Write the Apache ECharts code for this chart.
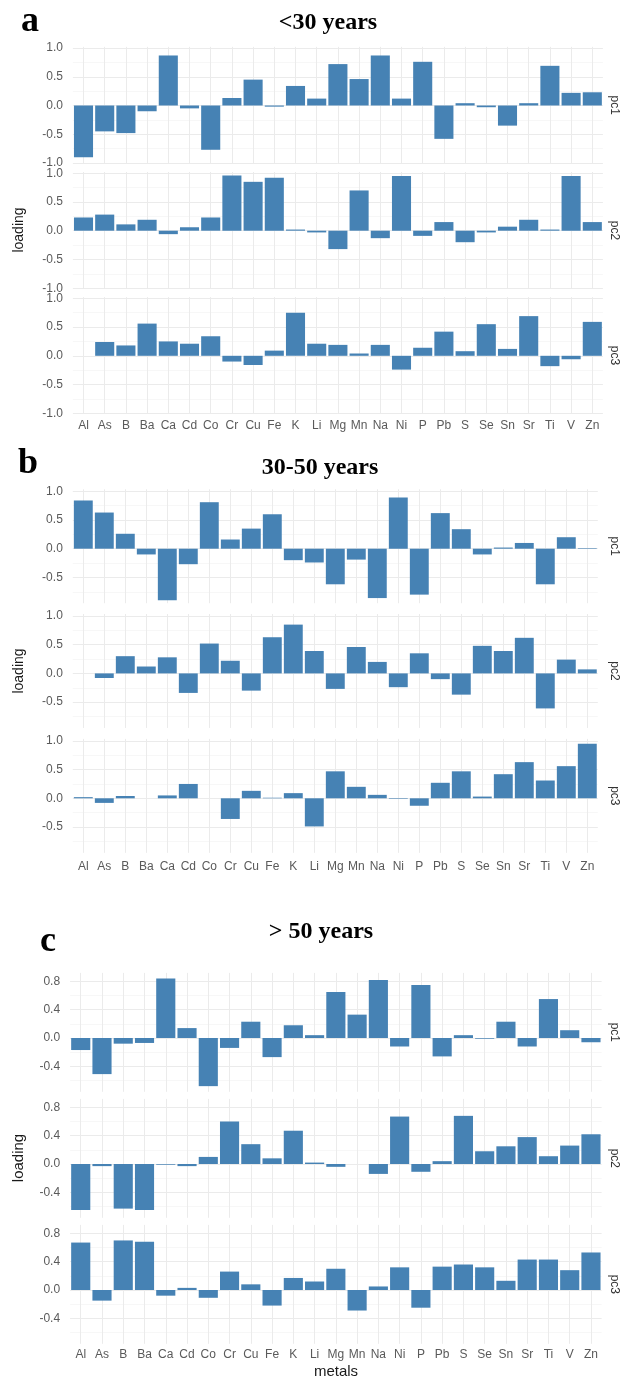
<!DOCTYPE html>
<html>
<head>
<meta charset="utf-8">
<script src="https://cdn.jsdelivr.net/npm/echarts@6/dist/echarts.min.js"></script>
<style>
html,body{margin:0;padding:0;background:#fff;}
#chart{width:621px;height:1380px;}
</style>
</head>
<body>
<div id="chart"></div>
<script>
// ---------- data ----------
const metals = ['Al','As','B','Ba','Ca','Cd','Co','Cr','Cu','Fe','K','Li','Mg','Mn','Na','Ni','P','Pb','S','Se','Sn','Sr','Ti','V','Zn'];
const components = ['pc1','pc2','pc3'];

const a_pc1 = [-0.90,-0.45,-0.48,-0.10,0.87,-0.05,-0.77,0.13,0.45,-0.02,0.34,0.12,0.72,0.46,0.87,0.12,0.76,-0.58,0.04,-0.03,-0.35,0.04,0.69,0.22,0.23];
const a_pc2 = [0.23,0.28,0.11,0.19,-0.06,0.06,0.23,0.96,0.85,0.92,0.02,-0.03,-0.32,0.70,-0.13,0.95,-0.09,0.15,-0.20,-0.03,0.07,0.19,0.02,0.95,0.15];
const a_pc3 = [0.00,0.24,0.18,0.56,0.25,0.21,0.34,-0.10,-0.16,0.09,0.75,0.21,0.19,0.04,0.19,-0.24,0.14,0.42,0.08,0.55,0.12,0.69,-0.18,-0.06,0.59];

const b_pc1 = [0.84,0.63,0.26,-0.10,-0.90,-0.27,0.81,0.16,0.35,0.60,-0.20,-0.24,-0.62,-0.19,-0.86,0.89,-0.80,0.62,0.34,-0.10,0.02,0.10,-0.62,0.20,0.01];
const b_pc2 = [0.00,-0.08,0.30,0.12,0.28,-0.34,0.52,0.22,-0.30,0.63,0.85,0.39,-0.27,0.46,0.20,-0.24,0.35,-0.10,-0.37,0.48,0.39,0.62,-0.61,0.24,0.07];
const b_pc3 = [0.02,-0.08,0.04,0.00,0.05,0.25,0.00,-0.36,0.13,0.01,0.09,-0.49,0.47,0.20,0.06,-0.01,-0.13,0.27,0.47,0.03,0.42,0.63,0.31,0.56,0.95];

const c_pc1 = [-0.17,-0.51,-0.08,-0.07,0.84,0.14,-0.68,-0.14,0.23,-0.27,0.18,0.04,0.65,0.33,0.82,-0.12,0.75,-0.26,0.04,-0.01,0.23,-0.12,0.55,0.11,-0.06];
const c_pc2 = [-0.65,-0.03,-0.63,-0.65,-0.01,-0.03,0.10,0.60,0.28,0.08,0.47,0.02,-0.04,0.00,-0.14,0.67,-0.11,0.04,0.68,0.18,0.25,0.38,0.11,0.26,0.42];
const c_pc3 = [0.67,-0.15,0.70,0.68,-0.08,0.03,-0.11,0.26,0.08,-0.22,0.17,0.12,0.30,-0.29,0.05,0.32,-0.25,0.33,0.36,0.32,0.13,0.43,0.43,0.28,0.53];

// tick labels
const majorTicksA = [-1.0,-0.5,0.0,0.5,1.0];
const minorTicksA = [-0.75,-0.25,0.25,0.75];
const majorTicksB = [-0.5,0.0,0.5,1.0];
const minorTicksB = [-0.75,-0.25,0.25,0.75];
const majorTicksC = [-0.4,0.0,0.4,0.8];
const minorTicksC = [-0.6,-0.2,0.2,0.6];

const panelTitles = ['<30 years','30-50 years','> 50 years'];
const panelLetters = ['a','b','c'];

// ---------- layout ----------
const panels = [
  {series:[a_pc1,a_pc2,a_pc3], major:majorTicksA, minor:minorTicksA, min:-1.01, max:1.02,
   unit:57.5, zeros:[105.5,230.7,355.8], left:72.9, width:530, labelMargin:6,
   titleX:328, titleY:23, letterX:21, letterY:40, loadingY:230, loadingSize:14},
  {series:[b_pc1,b_pc2,b_pc3], major:majorTicksB, minor:minorTicksB, min:-0.95, max:1.035,
   unit:57.4, zeros:[548.7,673.4,798.3], left:72.8, width:525, labelMargin:8,
   titleX:320, titleY:468, letterX:18, letterY:482, loadingY:671, loadingSize:14},
  {series:[c_pc1,c_pc2,c_pc3], major:majorTicksC, minor:minorTicksC, min:-0.76, max:0.92,
   unit:70.8, zeros:[1038,1164,1290], left:70.1, width:531.5, labelMargin:5,
   titleX:321, titleY:932, letterX:40, letterY:960, loadingY:1158, loadingSize:15}
];

const BAR = '#4682B4';
const GRID_MAJOR = '#ebebeb';
const GRID_MINOR = '#f4f4f4';
const TICK_TXT = '#5a5a5a';
const SANS = '"Liberation Sans", Arial, Helvetica, sans-serif';
const SERIF = '"Liberation Serif", "Times New Roman", serif';

const grid = [], xAxis = [], yAxis = [], series = [], graphic = [];

panels.forEach((p, pi) => {
  p.series.forEach((vals, fi) => {
    const gi = grid.length;
    const top = p.zeros[fi] - p.max * p.unit;
    const height = (p.max - p.min) * p.unit;
    grid.push({left:p.left, top:top, width:p.width, height:height, containLabel:false});
    xAxis.push({
      type:'category', gridIndex:gi, data:metals,
      axisLine:{show:false}, axisTick:{show:false, interval:0},
      axisLabel:{show: fi === 2, interval:0, color:TICK_TXT, fontSize:12, fontFamily:SANS, margin:p.labelMargin},
      splitLine:{show:true, interval:0, alignWithLabel:true, lineStyle:{color:GRID_MAJOR, width:1}}
    });
    const yi = yAxis.length;
    yAxis.push({
      type:'value', gridIndex:gi, min:p.min, max:p.max, position:'left',
      axisLine:{show:false},
      axisTick:{show:false, customValues:p.major},
      axisLabel:{show:true, customValues:p.major, color:TICK_TXT, fontSize:12, fontFamily:SANS, margin:10,
                 formatter: v => Number(v).toFixed(1)},
      splitLine:{show:true, lineStyle:{color:GRID_MAJOR, width:1}}
    });
    yAxis.push({
      type:'value', gridIndex:gi, min:p.min, max:p.max, position:'left',
      axisLine:{show:false},
      axisTick:{show:false, customValues:p.minor},
      axisLabel:{show:false, customValues:p.minor},
      splitLine:{show:true, lineStyle:{color:GRID_MINOR, width:0.7}}
    });
    series.push({
      type:'bar', xAxisIndex:gi, yAxisIndex:yi, data:vals,
      barCategoryGap:'10%', itemStyle:{color:BAR}, silent:true, z:3
    });
    // strip label
    graphic.push({
      type:'text', x:614, y: top + height/2, rotation:-Math.PI/2,
      style:{text:components[fi], fill:'#333', font:'12px ' + SANS, textAlign:'center', textVerticalAlign:'middle'}
    });
  });
  graphic.push({
    type:'text', x:p.titleX, y:p.titleY,
    style:{text:panelTitles[pi], fill:'#000', font:'bold 24px ' + SERIF, textAlign:'center', textVerticalAlign:'middle'}
  });
  graphic.push({
    type:'text', x:p.letterX, y:p.letterY,
    style:{text:panelLetters[pi], fill:'#000', font:'bold 36px ' + SERIF, textAlign:'left', textVerticalAlign:'bottom'}
  });
  graphic.push({
    type:'text', x:19, y:p.loadingY, rotation:Math.PI/2,
    style:{text:'loading', fill:'#1a1a1a', font:p.loadingSize + 'px ' + SANS, textAlign:'center', textVerticalAlign:'middle'}
  });
});

graphic.push({
  type:'text', x:336, y:1372,
  style:{text:'metals', fill:'#1a1a1a', font:'15px ' + SANS, textAlign:'center', textVerticalAlign:'middle'}
});

const chart = echarts.init(document.getElementById('chart'), null, {renderer:'canvas'});
chart.setOption({
  animation:false,
  backgroundColor:'#ffffff',
  grid, xAxis, yAxis, series, graphic
});
</script>
</body>
</html>
